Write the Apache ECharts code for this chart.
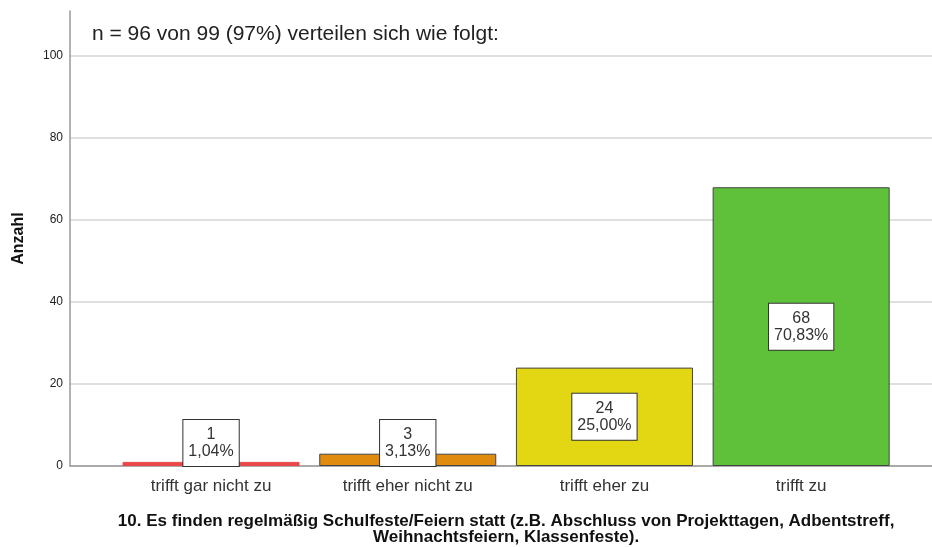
<!DOCTYPE html>
<html>
<head>
<meta charset="utf-8">
<script src="https://cdn.jsdelivr.net/npm/echarts@6/dist/echarts.min.js"></script>
<style>
  html, body { margin: 0; padding: 0; background: #fff; }
  #main { width: 932px; height: 547px; }
</style>
</head>
<body>
<div id="main"></div>
<script>
var categories = ['trifft gar nicht zu', 'trifft eher nicht zu', 'trifft eher zu', 'trifft zu'];
var counts = [1, 3, 24, 68];
var percents = ['1,04%', '3,13%', '25,00%', '70,83%'];
var barColors = ['#e8484a', '#e08b0e', '#e2d712', '#5fc13a'];
var yTicks = [0, 20, 40, 60, 80, 100];

var myChart = echarts.init(document.getElementById('main'));
var font = 'Arial, "Liberation Sans", sans-serif';

var barData = counts.map(function (v, i) {
  return {
    value: v,
    itemStyle: {
      color: barColors[i],
      borderColor: i === 0 ? barColors[i] : '#444',
      borderWidth: 1
    },
    label: {
      position: v < 12 ? 'insideBottom' : 'inside',
      distance: 0
    }
  };
});

var option = {
  backgroundColor: '#fff',
  animation: false,
  title: {
    text: 'n = 96 von 99 (97%) verteilen sich wie folgt:',
    left: 87,
    top: 19,
    textStyle: { fontFamily: font, fontSize: 21, fontWeight: 'normal', color: '#222' }
  },
  grid: [
    { left: 70, right: 0, top: 11, bottom: 81, outerBoundsMode: 'none' },
    { left: 112.7, right: 32.5, top: 11, bottom: 81, outerBoundsMode: 'none' }
  ],
  xAxis: [
    {
      type: 'category',
      gridIndex: 0,
      data: [''],
      axisLine: { lineStyle: { color: '#999', width: 1.5 } },
      axisTick: { show: false },
      axisLabel: { show: false }
    },
    {
      type: 'category',
      gridIndex: 1,
      data: categories,
      axisLine: { show: false },
      axisTick: { show: false },
      axisLabel: { fontFamily: font, fontSize: 17, color: '#333', margin: 12 },
      name: '10. Es finden regelmäßig Schulfeste/Feiern statt (z.B. Abschluss von Projekttagen, Adbentstreff,\nWeihnachtsfeiern, Klassenfeste).',
      nameLocation: 'middle',
      nameGap: 47,
      nameTextStyle: { fontFamily: font, fontSize: 17, fontWeight: 'bold', color: '#111', lineHeight: 16 }
    }
  ],
  yAxis: [
    {
      type: 'value',
      gridIndex: 0,
      min: 0,
      max: 111,
      interval: 20,
      name: 'Anzahl',
      nameLocation: 'middle',
      nameGap: 43,
      nameTextStyle: { fontFamily: font, fontSize: 16, fontWeight: 'bold', color: '#111' },
      axisLine: { show: true, lineStyle: { color: '#999', width: 1.5 } },
      axisTick: { show: false },
      axisLabel: {
        fontFamily: font, fontSize: 12, color: '#222', margin: 7,
        showMaxLabel: false,
        formatter: function (v) { return yTicks.indexOf(v) >= 0 ? String(v) : ''; }
      },
      splitLine: { show: true, showMaxLine: false, lineStyle: { color: '#d4d4d4', width: 1.5 } }
    },
    {
      type: 'value',
      gridIndex: 1,
      min: 0,
      max: 111,
      interval: 20,
      show: false,
      splitLine: { show: false }
    }
  ],
  series: [
    {
      type: 'bar',
      xAxisIndex: 1,
      yAxisIndex: 1,
      barCategoryGap: '10%',
      data: barData,
      z: 3,
      label: {
        show: true,
        formatter: function (p) { return p.value + '\n' + percents[p.dataIndex]; },
        fontFamily: font,
        fontSize: 16,
        lineHeight: 17,
        color: '#333',
        align: 'center',
        backgroundColor: '#fff',
        borderColor: '#333',
        borderWidth: 1,
        padding: [6, 5, 6, 5]
      }
    }
  ]
};

myChart.setOption(option);
</script>
</body>
</html>
